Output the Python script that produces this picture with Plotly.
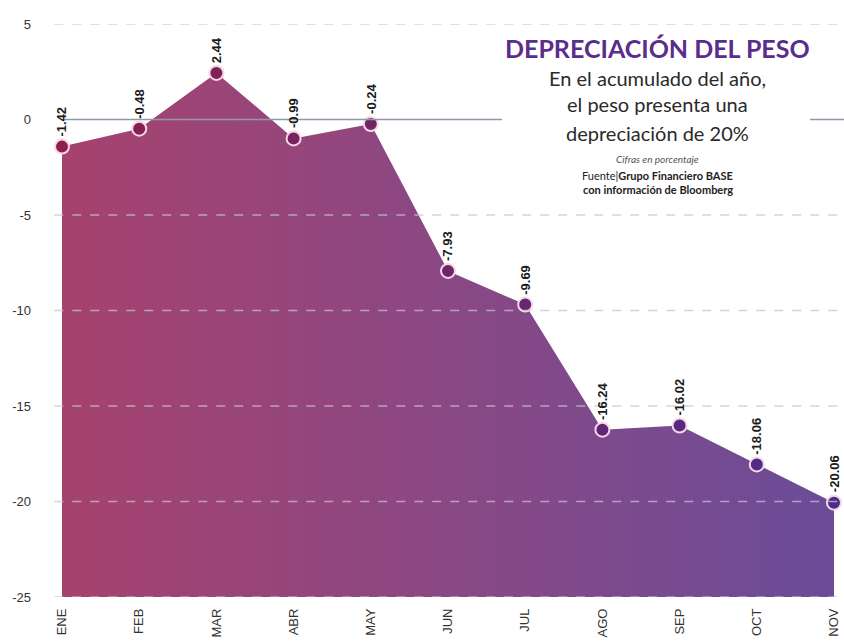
import plotly.graph_objects as go

months = ["ENE", "FEB", "MAR", "ABR", "MAY", "JUN", "JUL", "AGO", "SEP", "OCT", "NOV"]
values = [-1.42, -0.48, 2.44, -0.99, -0.24, -7.93, -9.69, -16.24, -16.02, -18.06, -20.06]
labels = ["-1.42", "-0.48", "2.44", "-0.99", "-0.24", "-7.93", "-9.69", "-16.24", "-16.02", "-18.06", "-20.06"]
y_ticks = [5, 0, -5, -10, -15, -20, -25]
y_min, y_max = -25, 5
grid_levels = [5, -5, -10, -15, -20, -25]

fig = go.Figure()

# baseline at the axis floor
fig.add_trace(go.Scatter(
    x=months, y=[y_min] * len(months), mode="lines",
    line=dict(width=0), hoverinfo="skip", showlegend=False,
))
# gradient area
fig.add_trace(go.Scatter(
    x=months, y=values, mode="lines", fill="tonexty",
    line=dict(width=0, color="#8a4480"),
    fillgradient=dict(type="horizontal",
                      colorscale=[[0, "#a6426e"], [0.5, "#8a4884"], [1, "#6b4c98"]]),
    hoverinfo="skip", showlegend=False,
))
# markers
fig.add_trace(go.Scatter(
    x=months, y=values, mode="markers",
    marker=dict(size=14, color=list(range(len(months))),
                colorscale=[[0, "#8c1f4c"], [1, "#4b2c8a"]],
                line=dict(color="#f7d6e6", width=2)),
    cliponaxis=False, showlegend=False,
))

shapes = []
for g in grid_levels:
    shapes.append(dict(type="line", xref="paper", yref="y", x0=-0.01, x1=1.02, y0=g, y1=g,
                       layer="above",
                       line=dict(color="rgba(195,195,205,0.75)", width=1.5, dash="dash")))
# zero line (interrupted by the title block)
shapes.append(dict(type="line", xref="paper", yref="y", x0=0.0, x1=0.570, y0=0, y1=0,
                   layer="above", line=dict(color="#8a9aa8", width=1.3)))
shapes.append(dict(type="line", xref="paper", yref="y", x0=0.969, x1=1.02, y0=0, y1=0,
                   layer="above", line=dict(color="#8a9aa8", width=1.3)))

annotations = []
for m, v, t in zip(months, values, labels):
    annotations.append(dict(x=m, y=v, text="<b>" + t + "</b>", textangle=-90, showarrow=False,
                            xanchor="center", yanchor="bottom", yshift=8,
                            font=dict(family="Liberation Sans", size=13, color="#1a1a1a"),
                            ))

cx = 0.772
# title block
annotations += [
    dict(xref="paper", yref="paper", x=cx, y=0.958, xanchor="center", yanchor="middle",
         text="<b>DEPRECIACIÓN DEL PESO</b>", showarrow=False,
         font=dict(family="Lato", size=25, color="#5a2d8c")),
    dict(xref="paper", yref="paper", x=cx, y=0.906, xanchor="center", yanchor="middle",
         text="En el acumulado del año,", showarrow=False,
         font=dict(family="Lato", size=20, color="#2a2a2a")),
    dict(xref="paper", yref="paper", x=cx, y=0.860, xanchor="center", yanchor="middle",
         text="el peso presenta una", showarrow=False,
         font=dict(family="Lato", size=20, color="#2a2a2a")),
    dict(xref="paper", yref="paper", x=cx, y=0.810, xanchor="center", yanchor="middle",
         text="depreciación de 20%", showarrow=False,
         font=dict(family="Lato", size=20, color="#2a2a2a")),
    dict(xref="paper", yref="paper", x=cx, y=0.764, xanchor="center", yanchor="middle",
         text="<i>Cifras en porcentaje</i>", showarrow=False,
         font=dict(family="Lato", size=10, color="#555555")),
    dict(xref="paper", yref="paper", x=cx, y=0.736, xanchor="center", yanchor="middle",
         text="Fuente|<b>Grupo Financiero BASE</b>", showarrow=False,
         font=dict(family="Lato", size=11, color="#222222")),
    dict(xref="paper", yref="paper", x=cx, y=0.711, xanchor="center", yanchor="middle",
         text="<b>con información de Bloomberg</b>", showarrow=False,
         font=dict(family="Lato", size=11, color="#222222")),
]

fig.update_layout(
    width=844, height=644,
    margin=dict(l=62, r=10, t=24, b=47, autoexpand=False),
    paper_bgcolor="white", plot_bgcolor="white",
    shapes=shapes, annotations=annotations,
    xaxis=dict(type="category", range=[0, len(months) - 1], showgrid=False, zeroline=False,
               showline=False, ticks="", tickangle=-90, automargin=False,
               ticklabelstandoff=8,
               tickfont=dict(family="Liberation Sans Narrow, Liberation Sans", size=13, color="#333333")),
    yaxis=dict(range=[y_min, y_max], tickvals=y_ticks, ticktext=[str(t) for t in y_ticks],
               showgrid=False, zeroline=False, showline=False, ticks="", automargin=False,
               ticklabelstandoff=30,
               tickfont=dict(family="Liberation Sans", size=13, color="#333333")),
)

fig.write_html("out.html", config={"displayModeBar": False},
               post_script="document.body.style.margin='0';document.body.style.padding='0';")
